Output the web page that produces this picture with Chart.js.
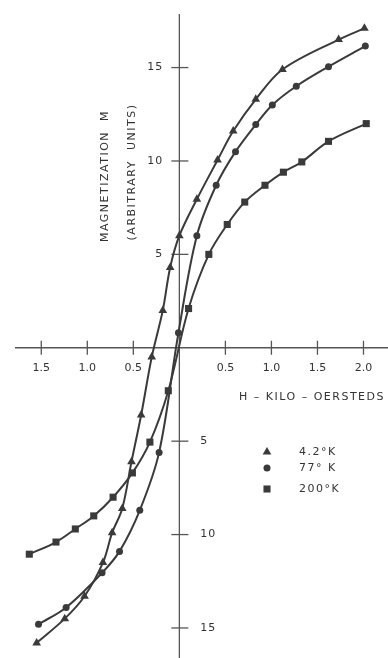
<!DOCTYPE html>
<html>
<head>
<meta charset="utf-8">
<script src="https://cdn.jsdelivr.net/npm/chart.js@4/dist/chart.umd.min.js"></script>
<style>
  html, body { margin: 0; padding: 0; background: #fff; }
  canvas { display: block; }
</style>
</head>
<body>
<canvas id="grafico" width="388" height="658"></canvas>
<script>
// temperaturas (leyenda)
const temps = ['4.2°K', '77° K', '200°K'];

// 4.2 K (triangulos)
const hTri = [-1.55, -1.245, -1.03, -0.83, -0.73, -0.62, -0.52, -0.415, -0.30, -0.18, -0.10, 0.0, 0.19, 0.415, 0.585, 0.83, 1.12, 1.73, 2.01];
const mTri = [-15.8, -14.5, -13.3, -11.5, -9.9, -8.6, -6.1, -3.6, -0.5, 2.0, 4.3, 6.0, 7.95, 10.05, 11.6, 13.3, 14.9, 16.5, 17.1];

// 77 K (circulos)
const hCir = [-1.53, -1.23, -0.84, -0.65, -0.43, -0.22, -0.01, 0.19, 0.40, 0.61, 0.83, 1.01, 1.27, 1.62, 2.02];
const mCir = [-14.8, -13.9, -12.05, -10.9, -8.7, -5.6, 0.8, 6.0, 8.7, 10.5, 11.95, 13.0, 14.0, 15.05, 16.15];

// 200 K (cuadrados)
const hSq = [-1.63, -1.34, -1.13, -0.93, -0.72, -0.51, -0.32, -0.12, 0.10, 0.32, 0.52, 0.71, 0.93, 1.13, 1.33, 1.62, 2.03];
const mSq = [-11.05, -10.4, -9.7, -9.0, -8.0, -6.7, -5.05, -2.3, 2.1, 5.0, 6.6, 7.8, 8.7, 9.4, 9.95, 11.05, 12.0];

// marcas de los ejes
const xTicks = [-1.5, -1.0, -0.5, 0.5, 1.0, 1.5, 2.0];
const yTicks = [-15, -10, -5, 5, 10, 15];

const tinta = '#3a3a3a';
const fuente = '"DejaVu Sans", sans-serif';

function serie(xs, ys, label, estilo, radio) {
  return {
    label: label,
    data: xs.map((x, i) => ({ x: x, y: ys[i] })),
    showLine: true,
    tension: 0.35,
    borderColor: tinta,
    borderWidth: 2,
    backgroundColor: tinta,
    pointStyle: estilo,
    pointRadius: radio,
    pointBorderWidth: 0,
    pointBorderColor: tinta,
    pointBackgroundColor: tinta
  };
}

function texto(ctx, s, x, y, align, espacio) {
  ctx.save();
  ctx.letterSpacing = espacio || '0px';
  ctx.textAlign = align;
  ctx.textBaseline = 'middle';
  ctx.fillText(s, x, y);
  ctx.restore();
}

const ejes = {
  id: 'ejes',
  beforeDatasetsDraw(chart) {
    const ctx = chart.ctx;
    const sx = chart.scales.x, sy = chart.scales.y;
    const x0 = sx.getPixelForValue(0), y0 = sy.getPixelForValue(0);
    ctx.save();
    ctx.strokeStyle = '#555';
    ctx.lineWidth = 1.3;
    ctx.beginPath();
    ctx.moveTo(x0, 14); ctx.lineTo(x0, chart.height);
    ctx.moveTo(15, y0); ctx.lineTo(chart.width, y0);
    ctx.stroke();

    ctx.fillStyle = '#333';
    ctx.font = '11px ' + fuente;
    xTicks.forEach(t => {
      const px = sx.getPixelForValue(t);
      ctx.beginPath();
      ctx.moveTo(px, y0 - 7); ctx.lineTo(px, y0 + 7);
      ctx.stroke();
      texto(ctx, Math.abs(t).toFixed(1), px, y0 + 20, 'center');
    });
    yTicks.forEach(t => {
      const py = sy.getPixelForValue(t);
      ctx.beginPath();
      ctx.moveTo(x0 - 8, py); ctx.lineTo(x0 + 9, py);
      ctx.stroke();
      if (t > 0) texto(ctx, String(t), x0 - 16, py, 'right', '1px');
      else texto(ctx, String(-t), x0 + 21, py, 'left', '1px');
    });

    // titulos
    texto(ctx, 'H – KILO – OERSTEDS', 385, y0 + 49, 'right', '1.5px');
    ctx.save();
    ctx.translate(105, 176);
    ctx.rotate(-Math.PI / 2);
    texto(ctx, 'MAGNETIZATION  M', 0, 0, 'center', '1.5px');
    ctx.restore();
    ctx.save();
    ctx.translate(132, 172);
    ctx.rotate(-Math.PI / 2);
    texto(ctx, '(ARBITRARY  UNITS)', 0, 0, 'center', '1.5px');
    ctx.restore();
    ctx.restore();
  },
  afterDraw(chart) {
    // leyenda
    const ctx = chart.ctx;
    const filas = [452, 468, 489];
    ctx.save();
    ctx.fillStyle = '#333';
    ctx.font = '11px ' + fuente;
    chart.data.datasets.forEach((ds, i) => {
      const opts = { pointStyle: ds.pointStyle, radius: ds.pointRadius, rotation: 0, borderWidth: 0 };
      ctx.save();
      ctx.fillStyle = tinta;
      ctx.strokeStyle = tinta;
      Chart.helpers.drawPoint(ctx, opts, 267, filas[i]);
      ctx.restore();
      texto(ctx, ds.label, 299, filas[i], 'left', '1.5px');
    });
    ctx.restore();
  }
};

const ctx = document.getElementById('grafico').getContext('2d');

new Chart(ctx, {
  type: 'scatter',
  data: {
    datasets: [
      serie(hTri, mTri, temps[0], 'triangle', 5),
      serie(hCir, mCir, temps[1], 'circle', 3.5),
      serie(hSq, mSq, temps[2], 'rect', 5)
    ]
  },
  options: {
    responsive: false,
    animation: false,
    layout: { padding: 0 },
    scales: {
      x: { type: 'linear', min: -1.894, max: 2.212, display: false },
      y: { type: 'linear', min: -16.34, max: 18.35, display: false }
    },
    plugins: {
      legend: { display: false },
      tooltip: { enabled: false }
    }
  },
  plugins: [ejes]
});
</script>
</body>
</html>
